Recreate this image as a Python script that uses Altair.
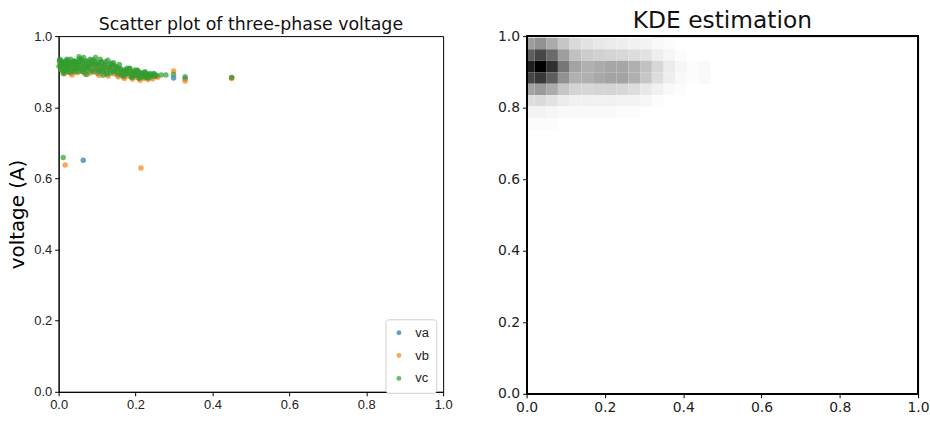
import altair as alt
import pandas as pd

# Phase-voltage samples (x, voltage) for each phase
va_x = [0.002, 0.006, 0.009, 0.013, 0.017, 0.021, 0.024, 0.029, 0.032, 0.037, 0.041, 0.045,
        0.049, 0.054, 0.058, 0.062, 0.067, 0.071, 0.075, 0.079, 0.083, 0.088, 0.093, 0.097,
        0.102, 0.107, 0.111, 0.116, 0.121, 0.126, 0.131, 0.137, 0.142, 0.148, 0.153, 0.158,
        0.164, 0.169, 0.174, 0.179, 0.184, 0.189, 0.194, 0.199, 0.204, 0.209, 0.214, 0.219,
        0.224, 0.229, 0.235, 0.241, 0.247, 0.253, 0.299, 0.329, 0.450, 0.064]
va_y = [0.930, 0.912, 0.925, 0.900, 0.918, 0.932, 0.905, 0.922, 0.896, 0.915, 0.928, 0.903,
        0.920, 0.936, 0.908, 0.925, 0.898, 0.914, 0.930, 0.902, 0.919, 0.933, 0.906, 0.921,
        0.895, 0.912, 0.928, 0.903, 0.917, 0.893, 0.910, 0.924, 0.899, 0.913, 0.891, 0.907,
        0.897, 0.886, 0.903, 0.893, 0.908, 0.884, 0.898, 0.889, 0.902, 0.881, 0.894, 0.886,
        0.897, 0.883, 0.891, 0.885, 0.893, 0.888, 0.882, 0.880, 0.883, 0.651]

vb_x = [0.003, 0.007, 0.011, 0.015, 0.019, 0.023, 0.027, 0.031, 0.035, 0.039, 0.044, 0.048,
        0.052, 0.057, 0.061, 0.065, 0.069, 0.074, 0.078, 0.082, 0.087, 0.091, 0.095, 0.100,
        0.105, 0.109, 0.114, 0.119, 0.124, 0.129, 0.134, 0.139, 0.144, 0.149, 0.155, 0.160,
        0.166, 0.171, 0.176, 0.181, 0.186, 0.192, 0.197, 0.202, 0.207, 0.212, 0.218, 0.223,
        0.228, 0.233, 0.239, 0.245, 0.251, 0.258, 0.299, 0.329, 0.450, 0.017, 0.214]
vb_y = [0.926, 0.906, 0.919, 0.894, 0.913, 0.928, 0.899, 0.916, 0.891, 0.910, 0.924, 0.897,
        0.915, 0.931, 0.902, 0.920, 0.893, 0.909, 0.926, 0.896, 0.914, 0.929, 0.900, 0.916,
        0.890, 0.906, 0.923, 0.897, 0.912, 0.888, 0.905, 0.919, 0.894, 0.908, 0.886, 0.902,
        0.892, 0.881, 0.898, 0.888, 0.903, 0.879, 0.893, 0.884, 0.897, 0.876, 0.889, 0.881,
        0.892, 0.878, 0.886, 0.880, 0.888, 0.884, 0.902, 0.874, 0.881, 0.638, 0.629]

vc_x = [0.003, 0.005, 0.008, 0.010, 0.012, 0.015, 0.018, 0.020, 0.022, 0.025, 0.028, 0.030,
        0.033, 0.036, 0.040, 0.043, 0.046, 0.050, 0.053, 0.056, 0.060, 0.063, 0.066, 0.070,
        0.073, 0.076, 0.080, 0.084, 0.088, 0.092, 0.096, 0.100, 0.104, 0.108, 0.112, 0.116,
        0.120, 0.124, 0.128, 0.132, 0.136, 0.140, 0.145, 0.150, 0.155, 0.160, 0.165, 0.170,
        0.175, 0.180, 0.185, 0.190, 0.195, 0.200, 0.205, 0.210, 0.215, 0.220, 0.225, 0.230,
        0.235, 0.240, 0.248, 0.255, 0.267, 0.279, 0.299, 0.329, 0.450,
        0.001, 0.004, 0.007, 0.011, 0.014, 0.017, 0.021, 0.024, 0.027, 0.031, 0.035, 0.038,
        0.042, 0.045, 0.048, 0.052, 0.055, 0.058, 0.062, 0.065, 0.068, 0.072, 0.078, 0.082,
        0.086, 0.090, 0.094, 0.098, 0.102, 0.106, 0.110, 0.114, 0.118, 0.122, 0.126, 0.130,
        0.134, 0.138, 0.143, 0.148, 0.153, 0.158, 0.163, 0.168, 0.173, 0.178, 0.183, 0.188,
        0.193, 0.198, 0.203, 0.208, 0.213, 0.218, 0.223, 0.228, 0.233, 0.238, 0.244, 0.251,
        0.012]
vc_y = [0.935, 0.920, 0.905, 0.930, 0.895, 0.915, 0.925, 0.905, 0.935, 0.915, 0.898, 0.925,
        0.910, 0.930, 0.900, 0.918, 0.928, 0.908, 0.942, 0.920, 0.935, 0.900, 0.915, 0.930,
        0.892, 0.910, 0.925, 0.905, 0.930, 0.918, 0.940, 0.925, 0.900, 0.935, 0.915, 0.890,
        0.922, 0.905, 0.932, 0.912, 0.896, 0.920, 0.905, 0.915, 0.895, 0.910, 0.900, 0.888,
        0.905, 0.895, 0.910, 0.885, 0.900, 0.892, 0.905, 0.882, 0.895, 0.888, 0.900, 0.885,
        0.893, 0.888, 0.895, 0.890, 0.891, 0.891, 0.893, 0.886, 0.884,
        0.915, 0.930, 0.920, 0.912, 0.925, 0.900, 0.918, 0.928, 0.910, 0.935, 0.920, 0.905,
        0.930, 0.910, 0.920, 0.900, 0.930, 0.910, 0.925, 0.940, 0.905, 0.920, 0.915, 0.935,
        0.920, 0.900, 0.930, 0.910, 0.920, 0.905, 0.925, 0.900, 0.910, 0.928, 0.895, 0.920,
        0.905, 0.915, 0.925, 0.900, 0.910, 0.920, 0.890, 0.905, 0.895, 0.910, 0.900, 0.895,
        0.885, 0.905, 0.890, 0.900, 0.885, 0.897, 0.885, 0.893, 0.882, 0.895, 0.889, 0.887,
        0.659]

phases = ["va", "vb", "vc"]
phase_colors = ["#1f77b4", "#ff7f0e", "#2ca02c"]

# Kernel density grid: bin edges and density per row (top row first)
kde_x_edges = [0.000, 0.020, 0.050, 0.080, 0.110, 0.140, 0.170, 0.200, 0.230,
               0.260, 0.290, 0.320, 0.350, 0.380, 0.410, 0.440, 0.470]
kde_y_edges = [1.000, 0.995, 0.963, 0.931, 0.899, 0.867, 0.835, 0.803, 0.771, 0.739]
kde_density = [
    [0.12, 0.14, 0.10, 0.06, 0.04, 0.03, 0.02, 0.02, 0.02, 0.01, 0.01, 0.00, 0.00, 0.00, 0.00, 0.00],
    [0.35, 0.40, 0.30, 0.20, 0.13, 0.10, 0.08, 0.07, 0.06, 0.05, 0.04, 0.02, 0.01, 0.00, 0.00, 0.00],
    [0.60, 0.70, 0.55, 0.35, 0.22, 0.18, 0.16, 0.15, 0.14, 0.12, 0.10, 0.06, 0.03, 0.01, 0.00, 0.00],
    [0.88, 1.00, 0.80, 0.50, 0.33, 0.28, 0.30, 0.32, 0.32, 0.28, 0.22, 0.14, 0.07, 0.03, 0.01, 0.02],
    [0.70, 0.76, 0.60, 0.40, 0.28, 0.28, 0.31, 0.33, 0.33, 0.28, 0.20, 0.12, 0.06, 0.02, 0.01, 0.02],
    [0.33, 0.36, 0.30, 0.20, 0.15, 0.14, 0.15, 0.15, 0.14, 0.12, 0.08, 0.05, 0.02, 0.01, 0.00, 0.00],
    [0.12, 0.13, 0.10, 0.07, 0.05, 0.05, 0.05, 0.05, 0.04, 0.04, 0.03, 0.01, 0.00, 0.00, 0.00, 0.00],
    [0.04, 0.04, 0.03, 0.02, 0.02, 0.02, 0.02, 0.02, 0.01, 0.01, 0.00, 0.00, 0.00, 0.00, 0.00, 0.00],
    [0.01, 0.01, 0.01, 0.00, 0.00, 0.00, 0.00, 0.00, 0.00, 0.00, 0.00, 0.00, 0.00, 0.00, 0.00, 0.00],
]

ticks = [0.0, 0.2, 0.4, 0.6, 0.8, 1.0]

scatter_df = pd.concat([
    pd.DataFrame({"x": xs, "voltage": ys, "phase": name, "seq": i})
    for i, (name, xs, ys) in enumerate([("va", va_x, va_y), ("vb", vb_x, vb_y), ("vc", vc_x, vc_y)])
], ignore_index=True)

kde_rows = []
for r, row in enumerate(kde_density):
    for c, d in enumerate(row):
        if d > 0:
            kde_rows.append({
                "x0": kde_x_edges[c], "x1": kde_x_edges[c + 1],
                "y0": kde_y_edges[r + 1], "y1": kde_y_edges[r],
                "density": d,
            })
kde_df = pd.DataFrame(kde_rows)

narrow_font = "Liberation Sans Narrow, Liberation Sans"
wide_font = "DejaVu Sans"
unit = alt.Scale(domain=[0, 1], nice=False, padding=0)


def axis(font, size, title=None, title_size=16, z=0):
    opts = dict(values=ticks, format=".1f", grid=False, domainColor="black",
                tickColor="black", tickSize=4, labelFont=font, labelFontSize=size,
                labelColor="#222222", labelPadding=3, labelFlush=False, zindex=z)
    if title:
        opts.update(title=title, titleFont=wide_font, titleFontSize=title_size,
                    titleFontWeight="normal", titleColor="black", titlePadding=6)
    else:
        opts.update(title=None)
    return alt.Axis(**opts)


scatter = alt.Chart(scatter_df).mark_circle(size=30, opacity=0.7).encode(
    x=alt.X("x:Q", scale=unit, axis=axis(narrow_font, 13)),
    y=alt.Y("voltage:Q", scale=unit, axis=axis(narrow_font, 13, "voltage (A)", 20)),
    color=alt.Color("phase:N", scale=alt.Scale(domain=phases, range=phase_colors),
                    legend=alt.Legend(orient="none", legendX=329, legendY=285, title=None,
                                      fillColor="white", strokeColor="#d0d0d0", cornerRadius=3,
                                      padding=7, rowPadding=9, symbolSize=24, symbolOpacity=0.7,
                                      symbolType="circle", labelFont=narrow_font,
                                      labelFontSize=13, labelOffset=10, labelColor="#222222")),
    order=alt.Order("seq:Q"),
).properties(
    width=387, height=358,
    title=alt.Title("Scatter plot of three-phase voltage", font=wide_font, fontSize=17.5,
                    fontWeight="normal", color="#111111", offset=1, dy=4),
)

cells = alt.Chart(kde_df).mark_rect(clip=True).encode(
    x=alt.X("x0:Q", scale=unit, axis=axis(wide_font, 14, z=1)),
    x2="x1:Q",
    y=alt.Y("y0:Q", scale=unit, axis=axis(wide_font, 14, z=1)),
    y2="y1:Q",
    color=alt.Color("density:Q", scale=alt.Scale(domain=[0, 1], range=["#ffffff", "#000000"]),
                    legend=None),
)

# Plot frame drawn above the density cells
frame = alt.Chart(kde_df).mark_rect(fill=None, stroke="black", strokeWidth=1).encode(
    x=alt.value(0), x2=alt.value(394), y=alt.value(0), y2=alt.value(360),
)

kde = alt.layer(cells, frame).properties(
    width=394, height=360,
    title=alt.Title("KDE estimation", font=wide_font, fontSize=23.5, fontWeight="normal",
                    color="#111111", offset=0, dy=3),
)

chart = alt.hconcat(scatter, kde, spacing=44).properties(
    padding={"left": 7, "top": 7, "right": 0, "bottom": 0},
).configure_view(stroke="black", strokeWidth=1).configure_concat(spacing=44)

chart.save("out.html", embed_options={"renderer": "svg", "actions": False})
